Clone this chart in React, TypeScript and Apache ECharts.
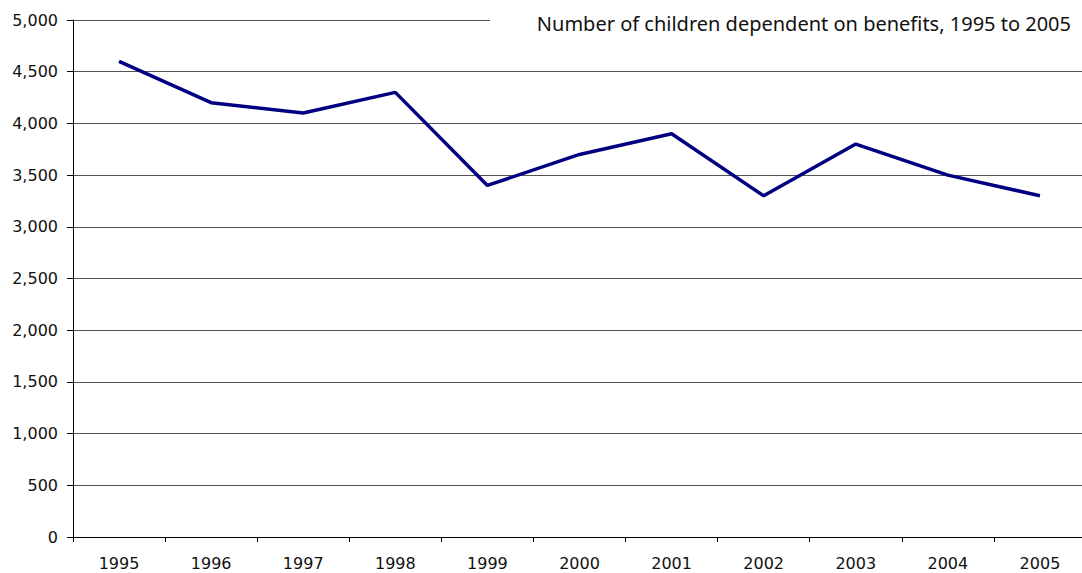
import React, { useEffect, useRef } from "react";
import * as echarts from "echarts";

const years = ["1995", "1996", "1997", "1998", "1999", "2000", "2001", "2002", "2003", "2004", "2005"];
const children = [4600, 4200, 4100, 4300, 3400, 3700, 3900, 3300, 3800, 3500, 3300];
const titleText = "Number of children dependent on benefits, 1995 to 2005";

export default function App() {
  const ref = useRef<HTMLDivElement>(null);
  useEffect(() => {
    const chart = echarts.init(ref.current!, null, { renderer: "svg" });
    chart.setOption({
      animation: false,
      backgroundColor: "#ffffff",
      grid: {
        left: 73,
        width: 1013,
        top: 20,
        bottom: 36,
        containLabel: false,
        outerBoundsMode: "none",
      },
      xAxis: {
        type: "category",
        data: years,
        boundaryGap: true,
        axisLine: { lineStyle: { color: "#000", width: 1 } },
        axisTick: { show: true, length: 5, lineStyle: { color: "#000" }, alignWithLabel: false },
        axisLabel: { color: "#111", fontSize: 16, fontFamily: "DejaVu Sans", margin: 18 },
        splitLine: { show: false },
      },
      yAxis: {
        type: "value",
        min: 0,
        max: 5000,
        interval: 500,
        axisLine: { show: true, lineStyle: { color: "#000", width: 1 } },
        axisTick: { show: true, length: 6, lineStyle: { color: "#000" } },
        axisLabel: {
          color: "#111",
          fontSize: 16,
          fontFamily: "DejaVu Sans",
          margin: 15,
          formatter: (v: number) => v.toLocaleString("en-US"),
        },
        splitLine: { show: true, lineStyle: { color: "#555", width: 1 } },
      },
      series: [
        {
          type: "line",
          data: children,
          symbol: "none",
          lineStyle: { color: "#000080", width: 3.5 },
        },
      ],
      graphic: [
        {
          type: "rect",
          shape: { x: 490, y: 8, width: 600, height: 32 },
          style: { fill: "#ffffff" },
          z: 100,
        },
        {
          type: "text",
          x: 1071,
          y: 23,
          z: 101,
          style: {
            text: titleText,
            fill: "#111",
            font: "20px 'Noto Sans'",
            textAlign: "right",
            textVerticalAlign: "middle",
          },
        },
      ],
    });
    return () => chart.dispose();
  }, []);
  return (
    <div
      ref={ref}
      style={{ position: "fixed", left: 0, top: 0, width: 1082, height: 573 }}
    />
  );
}
